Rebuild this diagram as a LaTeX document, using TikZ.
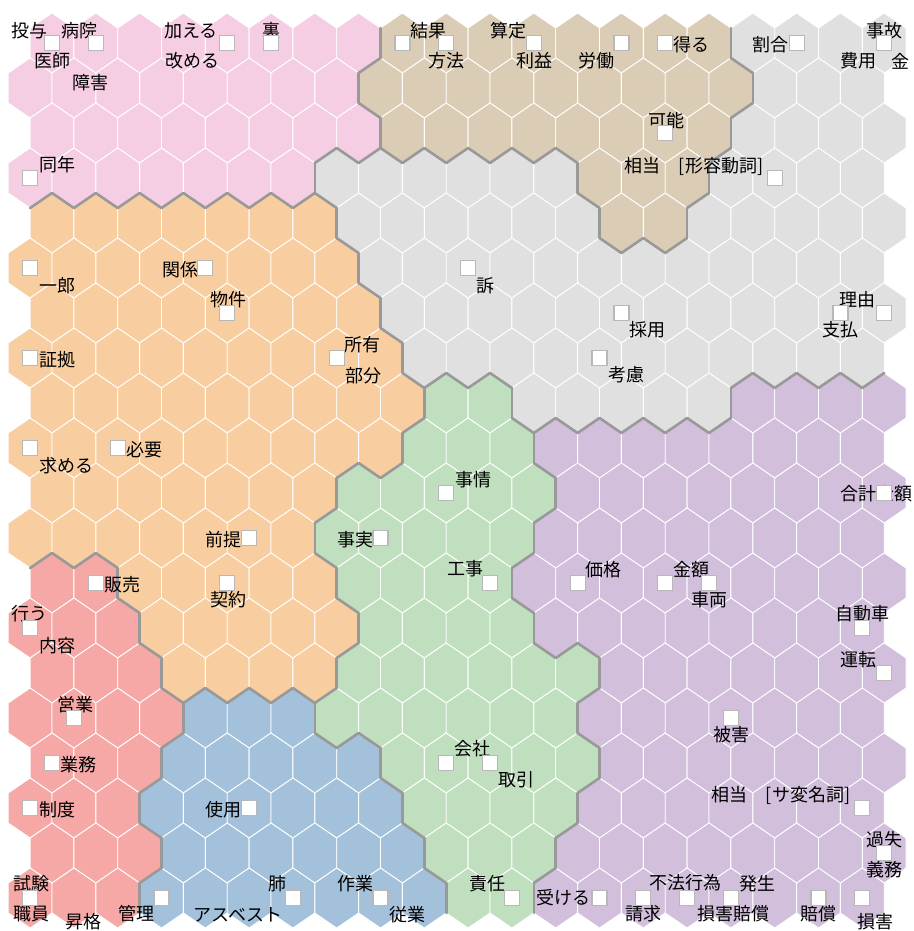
\documentclass[tikz,border=0pt]{standalone}
\usepackage{fontspec}
\newfontfamily\somfont{Noto Sans CJK JP}
\definecolor{somP}{HTML}{F5CEE3}
\definecolor{somT}{HTML}{DBCCB5}
\definecolor{somG}{HTML}{E0E0E0}
\definecolor{somO}{HTML}{F8CDA0}
\definecolor{somN}{HTML}{BFDFBF}
\definecolor{somV}{HTML}{D1BFDC}
\definecolor{somR}{HTML}{F5A8A6}
\definecolor{somB}{HTML}{A3C1DA}
\definecolor{somLine}{HTML}{999999}
\definecolor{somBox}{HTML}{B8B8B8}
\newcommand{\somhex}{+(0,-30) -- +(21.9,-15) -- +(21.9,15) -- +(0,30) -- +(-21.9,15) -- +(-21.9,-15) -- cycle}

\begin{document}
\begin{tikzpicture}[
  x=1pt,y=-1pt,
  hexcell/.style={draw=white,line width=0.9pt},
  border/.style={draw=somLine,line width=2.6pt,line cap=round},
  unit/.style={draw=somBox,fill=white,line width=1.2pt,minimum size=15pt,inner sep=0pt},
  word/.style={inner sep=0pt,font=\somfont\fontsize{18}{18}\selectfont}
]
\useasboundingbox (0,0) rectangle (913,931);

\foreach \cells [count=\r from 0] in {
  {P,P,P,P,P,P,P,P,T,T,T,T,T,T,T,T,G,G,G,G},
  {P,P,P,P,P,P,P,P,T,T,T,T,T,T,T,T,T,G,G,G},
  {P,P,P,P,P,P,P,P,T,T,T,T,T,T,T,T,G,G,G,G},
  {P,P,P,P,P,P,P,G,G,G,G,G,G,T,T,T,G,G,G,G},
  {O,O,O,O,O,O,O,G,G,G,G,G,G,T,T,G,G,G,G,G},
  {O,O,O,O,O,O,O,O,G,G,G,G,G,G,G,G,G,G,G,G},
  {O,O,O,O,O,O,O,O,G,G,G,G,G,G,G,G,G,G,G,G},
  {O,O,O,O,O,O,O,O,O,G,G,G,G,G,G,G,G,G,G,G},
  {O,O,O,O,O,O,O,O,O,N,N,G,G,G,G,G,V,V,V,V},
  {O,O,O,O,O,O,O,O,O,N,N,N,V,V,V,V,V,V,V,V},
  {O,O,O,O,O,O,O,N,N,N,N,N,V,V,V,V,V,V,V,V},
  {O,O,O,O,O,O,O,N,N,N,N,N,V,V,V,V,V,V,V,V},
  {R,R,O,O,O,O,O,N,N,N,N,V,V,V,V,V,V,V,V,V},
  {R,R,R,O,O,O,O,O,N,N,N,N,V,V,V,V,V,V,V,V},
  {R,R,R,O,O,O,O,N,N,N,N,N,N,V,V,V,V,V,V,V},
  {R,R,R,R,B,B,B,N,N,N,N,N,N,V,V,V,V,V,V,V},
  {R,R,R,B,B,B,B,B,N,N,N,N,N,V,V,V,V,V,V,V},
  {R,R,R,B,B,B,B,B,B,N,N,N,N,V,V,V,V,V,V,V},
  {R,R,R,B,B,B,B,B,B,N,N,N,V,V,V,V,V,V,V,V},
  {R,R,R,B,B,B,B,B,B,B,N,N,V,V,V,V,V,V,V,V}} {
  \foreach \k [count=\c from 0] in \cells {
    \pgfmathsetmacro\cx{52-21.9*mod(\r,2)+43.8*\c}
    \pgfmathsetmacro\cy{43+45*\r}
    \filldraw[hexcell,fill=som\k] (\cx,\cy) \somhex;
    \expandafter\xdef\csname som-\r-\c\endcsname{\k}
  }
}

\foreach \r in {0,...,19} {
  \foreach \c in {0,...,19} {
    \pgfmathsetmacro\cx{52-21.9*mod(\r,2)+43.8*\c}
    \pgfmathsetmacro\cy{43+45*\r}
    \pgfmathtruncatemacro\cn{\c+1}
    \pgfmathtruncatemacro\cp{\c-1}
    \pgfmathtruncatemacro\rn{\r+1}
    \edef\here{\csname som-\r-\c\endcsname}
    \ifnum\c<19
      \edef\there{\csname som-\r-\cn\endcsname}
      \ifx\here\there\else \draw[border] (\cx,\cy) +(21.9,-15) -- +(21.9,15); \fi
    \fi
    \ifnum\r<19
      \ifodd\r \edef\lowL{\cp}\edef\lowR{\c} \else \edef\lowL{\c}\edef\lowR{\cn} \fi
      \ifnum\lowR<20
        \edef\there{\csname som-\rn-\lowR\endcsname}
        \ifx\here\there\else \draw[border] (\cx,\cy) +(21.9,15) -- +(0,30); \fi
      \fi
      \ifnum\lowL>-1
        \edef\there{\csname som-\rn-\lowL\endcsname}
        \ifx\here\there\else \draw[border] (\cx,\cy) +(0,30) -- +(-21.9,15); \fi
      \fi
    \fi
  }
}

\node[word] (toyo) at (29,31) {投与};
\node[word] (byoin) at (79,31) {病院};
\node[word] (ishi) at (52,61) {医師};
\node[word] (shogai) at (90,83) {障害};
\node[word] (kuwaeru) at (191,31) {加える};
\node[word] (aratameru) at (192,61) {改める};
\node[word] (ura) at (271,31) {裏};
\node[word] (kekka) at (428,31) {結果};
\node[word] (hoho) at (446,61) {方法};
\node[word] (santei) at (508,31) {算定};
\node[word] (rieki) at (534,61) {利益};
\node[word] (rodo) at (596,61) {労働};
\node[word] (eru) at (691,45) {得る};
\node[word] (wariai) at (770,45) {割合};
\node[word] (jiko) at (884,31) {事故};
\node[word] (hiyo) at (858,61) {費用};
\node[word] (kin) at (900,61) {金};
\node[word] (kano) at (666,121) {可能};
\node[word] (dononeA) at (694,166) {相当　[形容動詞]};
\node[word] (donen) at (57,165) {同年};
\node[word] (ichiro) at (57,286) {一郎};
\node[word] (kankei) at (180,270) {関係};
\node[word] (uttae) at (485,286) {訴};
\node[word] (bukken) at (228,300) {物件};
\node[word] (saiyo) at (647,330) {採用};
\node[word] (riyu) at (857,300) {理由};
\node[word] (shiharai) at (840,330) {支払};
\node[word] (shoko) at (57,360) {証拠};
\node[word] (shoyu) at (362,345) {所有};
\node[word] (bubun) at (363,376) {部分};
\node[word] (koryo) at (626,375) {考慮};
\node[word] (motomeru) at (66,466) {求める};
\node[word] (hitsuyo) at (144,450) {必要};
\node[word] (jijo) at (473,480) {事情};
\node[word] (gokei) at (876,494) {合計金額};
\node[word] (zentei) at (223,540) {前提};
\node[word] (jijitsu) at (355,540) {事実};
\node[word] (hanbai) at (122,585) {販売};
\node[word] (keiyaku) at (228,600) {契約};
\node[word] (koji) at (465,569) {工事};
\node[word] (kakaku) at (603,570) {価格};
\node[word] (kingaku) at (691,570) {金額};
\node[word] (sharyo) at (709,600) {車両};
\node[word] (okonau) at (30,614) {行う};
\node[word] (naiyo) at (57,646) {内容};
\node[word] (jidosha) at (862,614) {自動車};
\node[word] (unten) at (858,660) {運転};
\node[word] (eigyo) at (75,705) {営業};
\node[word] (higai) at (731,735) {被害};
\node[word] (gyomu) at (78,765) {業務};
\node[word] (kaisha) at (472,749) {会社};
\node[word] (torihiki) at (516,780) {取引};
\node[word] (seido) at (57,810) {制度};
\node[word] (shiyo) at (223,810) {使用};
\node[word] (dononeB) at (781,795) {相当　[サ変名詞]};
\node[word] (kashitsu) at (884,840) {過失};
\node[word] (gimu) at (884,870) {義務};
\node[word] (shiken) at (31,884) {試験};
\node[word] (shokuin) at (31,914) {職員};
\node[word] (shokaku) at (83,922) {昇格};
\node[word] (kanri) at (136,914) {管理};
\node[word] (hai) at (277,884) {肺};
\node[word] (asbesto) at (238,915) {アスベスト};
\node[word] (sagyo) at (355,884) {作業};
\node[word] (jugyo) at (407,915) {従業};
\node[word] (sekinin) at (487,884) {責任};
\node[word] (ukeru) at (563,898) {受ける};
\node[word] (seikyu) at (643,914) {請求};
\node[word] (fuho) at (685,883) {不法行為};
\node[word] (hassei) at (757,884) {発生};
\node[word] (songaibaisho) at (733,914) {損害賠償};
\node[word] (baisho) at (818,914) {賠償};
\node[word] (songai) at (875,922) {損害};

\foreach \r/\c in {0/0,0/1,0/4,0/5,0/8,0/9,0/11,0/13,0/14,0/17,0/19,2/14,3/0,3/17,5/0,5/4,5/10,6/4,6/13,6/18,6/19,7/0,7/7,7/13,9/0,9/2,10/9,10/19,11/5,11/8,12/1,12/4,12/10,12/12,12/14,12/15,13/0,13/19,14/19,15/1,15/16,16/0,16/9,16/10,17/0,17/5,17/19,18/19,19/0,19/3,19/6,19/8,19/11,19/13,19/14,19/15,19/16,19/18,19/19} {\node[unit] (u\r-\c) at ({52-21.9*mod(\r,2)+43.8*\c},{43+45*\r}) {};}
\end{tikzpicture}
\end{document}
